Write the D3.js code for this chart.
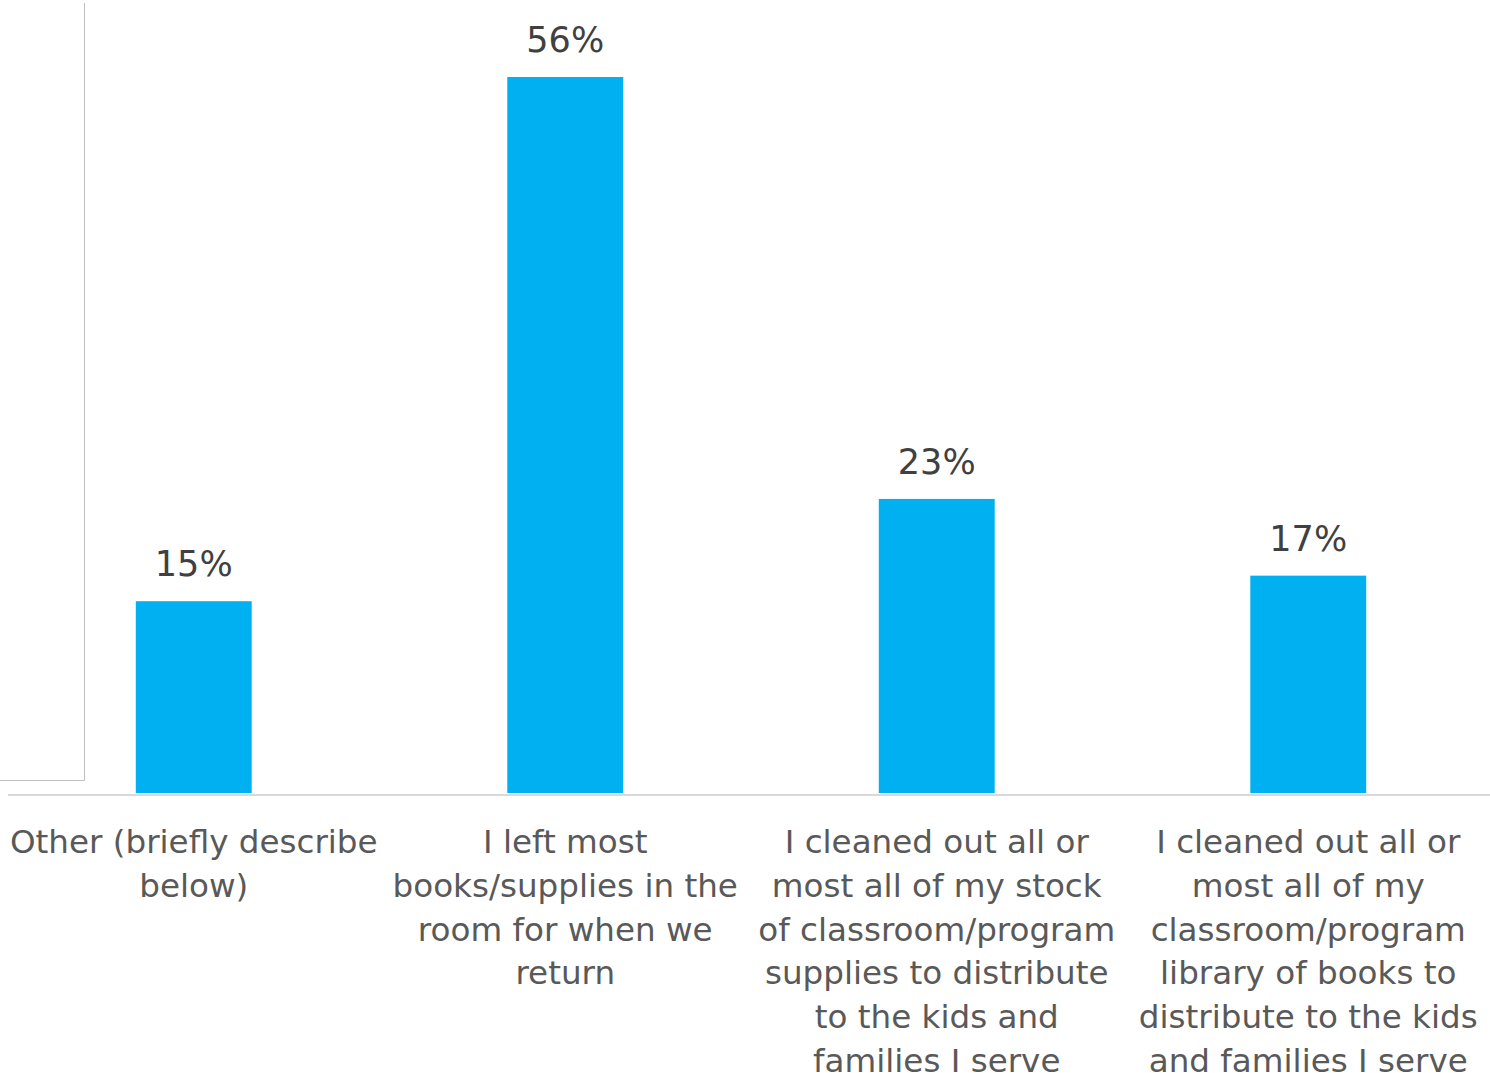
<!DOCTYPE html>
<html>
<head>
<meta charset="utf-8">
<script src="https://cdn.jsdelivr.net/npm/d3@7"></script>
<style>
  html, body { margin: 0; padding: 0; background: #fff; }
  svg { display: block; }
</style>
</head>
<body>
<div id="chart"></div>
<script>
// Survey responses: what happened to classroom books and supplies
const categories = [
  ["Other (briefly describe", "below)"],
  ["I left most", "books/supplies in the", "room for when we", "return"],
  ["I cleaned out all or", "most all of my stock", "of classroom/program", "supplies to distribute", "to the kids and", "families I serve"],
  ["I cleaned out all or", "most all of my", "classroom/program", "library of books to", "distribute to the kids", "and families I serve"]
];
const values = [15, 56, 23, 17];
const valueLabels = ["15%", "56%", "23%", "17%"];

const W = 1490, H = 1073;
const baseline = 793;

const svg = d3.select("#chart").append("svg")
  .attr("width", W).attr("height", H);

const x = d3.scaleBand()
  .domain(d3.range(categories.length))
  .range([8, 1494])
  .paddingInner(0.688)
  .paddingOuter(0.344);

const y = d3.scaleLinear()
  .domain([0, 56])
  .range([baseline, 77]);

// Thin frame at top-left
svg.append("path")
  .attr("d", "M84.5,3 V780.5 H0")
  .attr("fill", "none")
  .attr("stroke", "#bfbfbf")
  .attr("stroke-width", 1);

// Bars
svg.selectAll("rect.bar")
  .data(values)
  .join("rect")
  .attr("class", "bar")
  .attr("x", (d, i) => x(i))
  .attr("width", x.bandwidth())
  .attr("y", d => y(d))
  .attr("height", d => baseline - y(d))
  .attr("fill", "#00b0f0");

// Category axis
const axis = d3.axisBottom(x).tickSize(0).tickFormat("");
const gx = svg.append("g")
  .attr("transform", `translate(0,${baseline + 2})`)
  .call(axis);
gx.select(".domain").attr("stroke", "#d9d9d9").attr("stroke-width", 2)
  .attr("d", "M8,0H1490");

// Value labels
svg.selectAll("text.val")
  .data(values)
  .join("text")
  .attr("class", "val")
  .attr("x", (d, i) => x(i) + x.bandwidth() / 2)
  .attr("y", d => y(d) - 25)
  .attr("text-anchor", "middle")
  .attr("font-family", "'DejaVu Sans', sans-serif")
  .attr("font-size", 35)
  .attr("fill", "#404040")
  .text((d, i) => valueLabels[i]);

// Category labels
const lab = svg.selectAll("text.cat")
  .data(categories)
  .join("text")
  .attr("class", "cat")
  .attr("x", (d, i) => x(i) + x.bandwidth() / 2)
  .attr("y", 853)
  .attr("text-anchor", "middle")
  .attr("font-family", "'DejaVu Sans', sans-serif")
  .attr("font-size", 32.6)
  .attr("fill", "#595959");
lab.selectAll("tspan")
  .data(d => d)
  .join("tspan")
  .attr("x", function () { return d3.select(this.parentNode).attr("x"); })
  .attr("dy", (d, j) => j === 0 ? 0 : 43.8)
  .text(d => d);
</script>
</body>
</html>
